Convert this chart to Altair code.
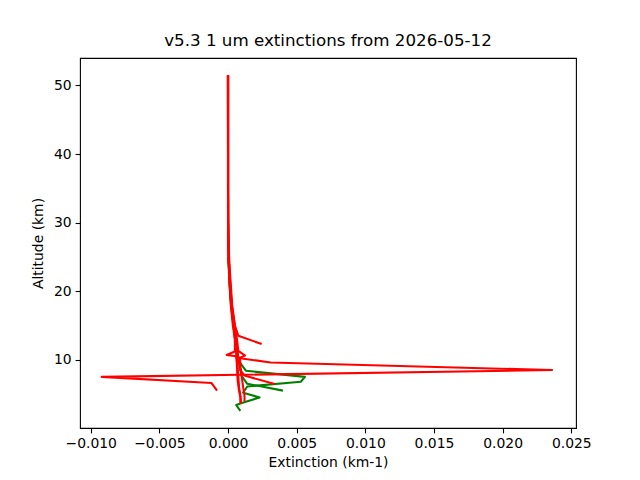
import altair as alt
import pandas as pd

# ---- profiles (altitude km, extinction km-1) ----
r1_alt = [51.5, 45, 40, 35, 30, 27, 24, 21, 18, 15, 13, 11.5, 10.3, 9.6, 8.5, 7.5, 6.6, 5.5]
r1_ext = [0.0, 0.0, 0.0, 0.0, 0.00001, 0.00003, 0.00008, 0.00016, 0.00027, 0.00045, 0.00055, 0.0006,
          0.00063, 0.0031, 0.0236, -0.0092, -0.0012, -0.0008]

r2_alt = [51.5, 45, 40, 35, 30, 27, 24, 21, 18, 15, 13.5, 12.3]
r2_ext = [0.0, 0.0, 0.0, 0.0, 0.00001, 0.00002, 0.00006, 0.00014, 0.00025, 0.0005, 0.00075, 0.00245]

r3_alt = [51.5, 45, 40, 35, 30, 27, 24, 21, 18, 15, 13, 11.2, 10.7, 10.5, 9, 7.5, 6, 4.8, 3.6]
r3_ext = [-0.00002, -0.00001, 0.0, 0.0, 0.0, 0.00002, 0.00005, 0.00012, 0.0002, 0.00035, 0.0005,
          0.0005, -0.0001, 0.0006, 0.0007, 0.00075, 0.0008, 0.0009, 0.00095]

r4_alt = [51.5, 45, 40, 35, 30, 27, 24, 21, 18, 15, 13, 11.3, 10.6, 10.3, 9, 7.5, 6, 4.8, 3.9]
r4_ext = [0.00001, 0.00001, 0.00001, 0.00001, 0.00002, 0.00004, 0.0001, 0.0002, 0.0003, 0.0005, 0.00065,
          0.00075, 0.00124, 0.00087, 0.0009, 0.001, 0.0011, 0.0012, 0.0012]

r5_alt = [51.5, 45, 40, 35, 30, 27, 24, 21, 18, 15, 13, 11, 9.5, 8.5, 7.7, 6.45]
r5_ext = [0.0, 0.0, 0.0, 0.0, 0.00001, 0.00003, 0.00007, 0.00015, 0.00026, 0.00042, 0.0006, 0.0007,
          0.0008, 0.0009, 0.0012, 0.0034]

r6_alt = [51.5, 45, 40, 35, 30, 27, 24, 21, 18, 15, 13, 11, 9, 7, 5.5, 4.5, 3.7]
r6_ext = [0.0, 0.0, 0.0, 0.0, 0.0, 0.00002, 0.00006, 0.00013, 0.00024, 0.0004, 0.0005, 0.0006,
          0.00065, 0.0007, 0.0008, 0.0009, 0.0009]

g1_alt = [25, 22, 20, 18, 15, 12, 10.5, 9.9, 9.2, 8.4, 7.5, 6.8, 6.1, 5.2, 4.5, 3.7, 3.4, 2.55]
g1_ext = [0.00003, 0.0001, 0.00015, 0.00024, 0.0004, 0.0006, 0.0007, 0.0008, 0.001, 0.0013,
          0.0056, 0.0053, 0.0014, 0.0011, 0.0023, 0.001, 0.0006, 0.0009]

g2_alt = [25, 22, 20, 18, 15, 12, 10, 8.5, 7.6, 6.5, 5.5]
g2_ext = [0.00002, 0.00008, 0.00014, 0.00022, 0.0004, 0.0006, 0.0008, 0.0009, 0.001, 0.0014, 0.0040]

red_profiles = {"r1": (r1_alt, r1_ext), "r2": (r2_alt, r2_ext), "r3": (r3_alt, r3_ext),
                "r4": (r4_alt, r4_ext), "r5": (r5_alt, r5_ext), "r6": (r6_alt, r6_ext)}
green_profiles = {"g1": (g1_alt, g1_ext), "g2": (g2_alt, g2_ext)}


def to_df(profiles):
    rows = []
    for name, (alts, exts) in profiles.items():
        for i, (a, e) in enumerate(zip(alts, exts)):
            rows.append({"profile": name, "i": i, "alt": a, "ext": e})
    return pd.DataFrame(rows)


x_scale = alt.Scale(domain=[-0.01078, 0.02534], nice=False, zero=False)
y_scale = alt.Scale(domain=[0.05, 54.0], nice=False, zero=False)

x_enc = alt.X("ext:Q", scale=x_scale,
              axis=alt.Axis(title="Extinction (km-1)", values=[-0.01, -0.005, 0, 0.005, 0.01, 0.015, 0.02, 0.025],
                            format=".3f"))
y_enc = alt.Y("alt:Q", scale=y_scale,
              axis=alt.Axis(title="Altitude (km)", values=[10, 20, 30, 40, 50], format="d"))


def layer(df, color):
    return alt.Chart(df).mark_line(color=color, strokeWidth=2.08, strokeJoin="round").encode(
        x=x_enc, y=y_enc, detail="profile:N", order="i:Q")


chart = alt.layer(
    layer(to_df(green_profiles), "#008000"),
    layer(to_df(red_profiles), "#ff0000"),
).properties(
    width=496, height=370,
    title=alt.TitleParams("v5.3 1 um extinctions from 2026-05-12", fontSize=16.7, font="DejaVu Sans",
                          fontWeight="normal", color="black", offset=8),
    autosize=alt.AutoSizeParams(type="none"),
    padding={"left": 72, "top": 50, "right": 56, "bottom": 44},
).configure_view(
    stroke="black", strokeWidth=1.1
).configure_axis(
    grid=False, domain=False, tickColor="black", tickSize=4.9, tickWidth=1.1,
    labelFont="DejaVu Sans", labelFontSize=13.9, labelColor="black", labelPadding=4,
    titleFont="DejaVu Sans", titleFontSize=13.9, titleFontWeight="normal", titleColor="black",
).configure_axisX(titlePadding=5).configure_axisY(titlePadding=8)

chart.save("out.html", embed_options={"renderer": "svg", "actions": False})
